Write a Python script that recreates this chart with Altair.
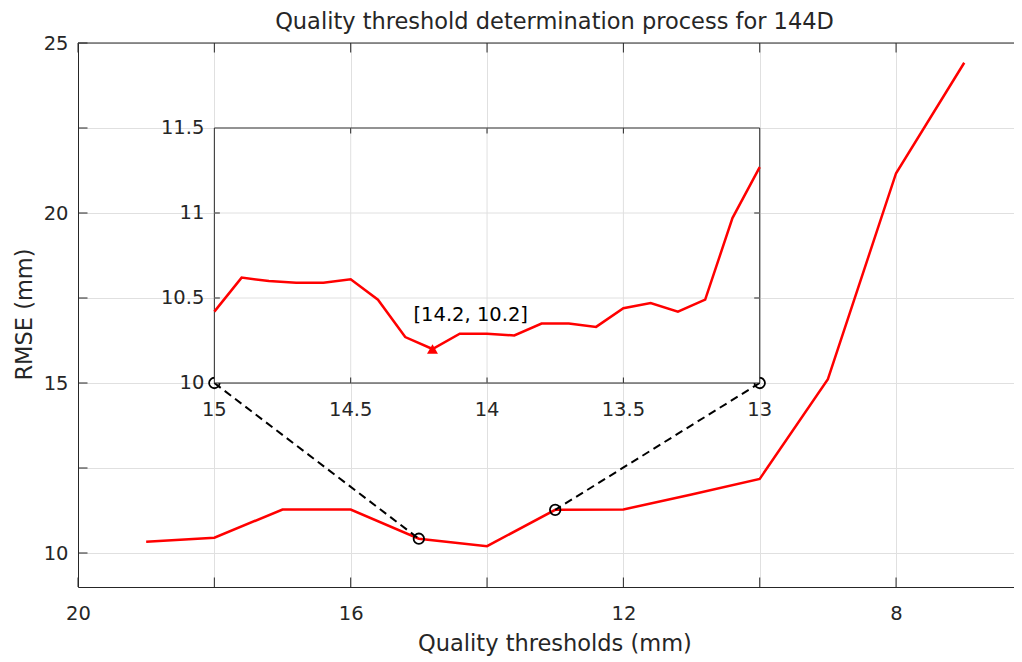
import altair as alt
import pandas as pd

# ---------------- data ----------------
title_text = ["Quality threshold determination process for 144D"]

main_threshold = [19, 18, 17, 16, 15, 14, 13, 12, 11, 10, 9, 8, 7]
main_rmse = [10.33, 10.45, 11.28, 11.28, 10.42, 10.20, 11.27, 11.28, 11.72, 12.18, 15.11, 21.17, 24.42]

inset_threshold = [15.0, 14.9, 14.8, 14.7, 14.6, 14.5, 14.4, 14.3, 14.2, 14.1, 14.0,
                   13.9, 13.8, 13.7, 13.6, 13.5, 13.4, 13.3, 13.2, 13.1, 13.0]
inset_rmse = [10.42, 10.62, 10.60, 10.59, 10.59, 10.61, 10.49, 10.27, 10.20, 10.29, 10.29,
              10.28, 10.35, 10.35, 10.33, 10.44, 10.47, 10.42, 10.49, 10.97, 11.27]

min_threshold = [14.2]
min_rmse = [10.2]

main_x_ticks = [20, 18, 16, 14, 12, 10, 8]
main_x_labels = [20, 16, 12, 8]
main_y_ticks = [10, 12.5, 15, 17.5, 20, 22.5, 25]
main_y_labels = [10, 15, 20, 25]
inset_x_ticks = [15, 14.5, 14, 13.5, 13]
inset_y_ticks = [10, 10.5, 11, 11.5]

# zoomed points on the main curve and where the inset sits (main data coordinates)
zoom_x = [15, 13]
zoom_y = [10.42, 11.27]
inset_box_x = [18, 10]
inset_box_y = [15, 22.5]

main_x_domain = [6.27, 20]
main_y_domain = [9, 25]
inset_x_domain = [13, 15]
inset_y_domain = [10, 11.5]

# ---------------- style / layout ----------------
W, H = 936, 544
CX = 476.5  # horizontal centre of the (uncropped) axes, for the titles
F = "DejaVu Sans"
AX = "#262626"
GRID = "#e0e0e0"
RED = "#ff0000"
TICK_FS = 19.5
LAB_FS = 22.5


def xpix(v):
    return (main_x_domain[1] - v) / (main_x_domain[1] - main_x_domain[0]) * W


def ypix(v):
    return (main_y_domain[1] - v) / (main_y_domain[1] - main_y_domain[0]) * H


xs = alt.Scale(domain=main_x_domain, reverse=True, nice=False, zero=False)
ys = alt.Scale(domain=main_y_domain, nice=False, zero=False)

ix0, ix1 = xpix(inset_box_x[0]), xpix(inset_box_x[1])
iy0, iy1 = ypix(inset_box_y[0]), ypix(inset_box_y[1])
ixs = alt.Scale(domain=inset_x_domain, reverse=True, nice=False, zero=False, range=[ix0, ix1])
iys = alt.Scale(domain=inset_y_domain, nice=False, zero=False, range=[iy0, iy1])


def label_expr(vals):
    return "indexof([" + ",".join(str(v) for v in vals) + "], datum.value) >= 0 ? datum.label : ''"


def MX(field):
    return alt.X(field, scale=xs, axis=None)


def MY(field):
    return alt.Y(field, scale=ys, axis=None)


def IX(field):
    return alt.X(field, scale=ixs, axis=None)


def IY(field):
    return alt.Y(field, scale=iys, axis=None)


# ---------------- main axes ----------------
df_main = pd.DataFrame({"x": main_threshold, "y": main_rmse})

main_line = alt.Chart(df_main).mark_line(color=RED, strokeWidth=2.5).encode(
    x=alt.X("x:Q", scale=xs, axis=alt.Axis(
        orient="bottom", values=main_x_ticks, labelExpr=label_expr(main_x_labels), format="~g",
        grid=True, gridColor=GRID, gridWidth=1, domain=True, domainColor=AX, domainWidth=1,
        ticks=False, labelPadding=32.5, labelBaseline="alphabetic",
        labelFont=F, labelFontSize=TICK_FS, labelColor=AX, labelFlush=False, labelOverlap=False,
        title="Quality thresholds (mm)", titleFont=F, titleFontSize=LAB_FS, titleFontWeight="normal",
        titleColor=AX, titleX=CX, titleY=63, titleAlign="center", titleBaseline="alphabetic")),
    y=alt.Y("y:Q", scale=ys, axis=alt.Axis(
        orient="left", values=main_y_ticks, labelExpr=label_expr(main_y_labels), format="~g",
        grid=True, gridColor=GRID, gridWidth=1, domain=True, domainColor=AX, domainWidth=1,
        ticks=False, labelPadding=10,
        labelFont=F, labelFontSize=TICK_FS, labelColor=AX, labelOverlap=False,
        title="RMSE (mm)", titleFont=F, titleFontSize=LAB_FS, titleFontWeight="normal",
        titleColor=AX, titleX=-46.3, titleY=H / 2 - 1, titleAngle=270, titleAlign="center",
        titleBaseline="alphabetic")),
)

df_title = pd.DataFrame({"t": title_text})
title_mark = alt.Chart(df_title).mark_text(align="center", baseline="alphabetic", font=F,
                                           fontSize=LAB_FS, color=AX).encode(
    x=alt.value(CX), y=alt.value(-13.7), text="t:N")

df_xt = pd.DataFrame({"x": main_x_ticks})
df_yt = pd.DataFrame({"y": main_y_ticks})
TL = 9.5
tick_bottom = alt.Chart(df_xt).mark_rule(color=AX, strokeWidth=1).encode(
    x=MX("x:Q"), y=alt.value(H), y2=alt.value(H - TL))
tick_top = alt.Chart(df_xt).mark_rule(color=AX, strokeWidth=1).encode(
    x=MX("x:Q"), y=alt.value(0), y2=alt.value(TL))
tick_left = alt.Chart(df_yt).mark_rule(color=AX, strokeWidth=1).encode(
    y=MY("y:Q"), x=alt.value(0), x2=alt.value(TL))
frame_top = alt.Chart(df_xt.head(1)).mark_rule(color=AX, strokeWidth=1).encode(
    x=alt.value(0), x2=alt.value(W), y=alt.value(0))

df_conn = pd.DataFrame({
    "x1": inset_box_x, "y1": [inset_box_y[0]] * 2, "x2": zoom_x, "y2": zoom_y})
connectors = alt.Chart(df_conn).mark_rule(color="black", strokeWidth=2, strokeDash=[8, 5]).encode(
    x=MX("x1:Q"), y=MY("y1:Q"), x2="x2:Q", y2="y2:Q")

df_circ = pd.DataFrame({"x": inset_box_x + zoom_x, "y": [inset_box_y[0]] * 2 + zoom_y})
circles = alt.Chart(df_circ).mark_point(shape="circle", filled=False, color="black",
                                        strokeWidth=1.8, size=110, opacity=1).encode(
    x=MX("x:Q"), y=MY("y:Q"))

# ---------------- inset axes ----------------
df_box = pd.DataFrame({"x": [inset_x_domain[1]], "x2": [inset_x_domain[0]],
                       "y": [inset_y_domain[0]], "y2": [inset_y_domain[1]]})
box = alt.Chart(df_box).mark_rect(fill="white", stroke=AX, strokeWidth=1).encode(
    x=IX("x:Q"), x2="x2:Q", y=IY("y:Q"), y2="y2:Q")

inner_x = inset_x_ticks[1:-1]
inner_y = inset_y_ticks[1:-1]
df_igx = pd.DataFrame({"x": inner_x, "y": inset_y_domain[0], "y2": inset_y_domain[1]})
df_igy = pd.DataFrame({"y": inner_y, "x": inset_x_domain[1], "x2": inset_x_domain[0]})
grid_v = alt.Chart(df_igx).mark_rule(color=GRID, strokeWidth=1).encode(
    x=IX("x:Q"), y=IY("y:Q"), y2="y2:Q")
grid_h = alt.Chart(df_igy).mark_rule(color=GRID, strokeWidth=1).encode(
    y=IY("y:Q"), x=IX("x:Q"), x2="x2:Q")

ITL = 5.5
df_ixt = pd.DataFrame({"x": inner_x})
df_iyt = pd.DataFrame({"y": inner_y})
itick_b = alt.Chart(df_ixt).mark_rule(color=AX, strokeWidth=1).encode(
    x=IX("x:Q"), y=alt.value(iy0), y2=alt.value(iy0 - ITL))
itick_t = alt.Chart(df_ixt).mark_rule(color=AX, strokeWidth=1).encode(
    x=IX("x:Q"), y=alt.value(iy1), y2=alt.value(iy1 + ITL))
itick_l = alt.Chart(df_iyt).mark_rule(color=AX, strokeWidth=1).encode(
    y=IY("y:Q"), x=alt.value(ix0), x2=alt.value(ix0 + ITL))
itick_r = alt.Chart(df_iyt).mark_rule(color=AX, strokeWidth=1).encode(
    y=IY("y:Q"), x=alt.value(ix1), x2=alt.value(ix1 - ITL))

df_ixl = pd.DataFrame({"x": inset_x_ticks, "t": [f"{v:g}" for v in inset_x_ticks]})
df_iyl = pd.DataFrame({"y": inset_y_ticks, "t": [f"{v:g}" for v in inset_y_ticks]})
ilab_x = alt.Chart(df_ixl).mark_text(align="center", baseline="alphabetic", font=F,
                                     fontSize=TICK_FS, color=AX).encode(
    x=IX("x:Q"), y=alt.value(iy0 + 33), text="t:N")
ilab_y = alt.Chart(df_iyl).mark_text(align="right", baseline="middle", font=F,
                                     fontSize=TICK_FS, color=AX).encode(
    y=IY("y:Q"), x=alt.value(ix0 - 10), text="t:N")

df_inset = pd.DataFrame({"x": inset_threshold, "y": inset_rmse})
inset_line = alt.Chart(df_inset).mark_line(color=RED, strokeWidth=2.5).encode(
    x=IX("x:Q"), y=IY("y:Q"))

df_min = pd.DataFrame({"x": min_threshold, "y": min_rmse,
                       "label": [f"[{min_threshold[0]}, {min_rmse[0]}]"]})
min_mark = alt.Chart(df_min).mark_point(shape="triangle-up", filled=True, color=RED,
                                        size=120, opacity=1).encode(
    x=IX("x:Q"), y=IY("y:Q"))
min_text = alt.Chart(df_min).mark_text(align="left", baseline="alphabetic", dx=-19, dy=-28,
                                       font=F, fontSize=TICK_FS, color="black").encode(
    x=IX("x:Q"), y=IY("y:Q"), text="label:N")

chart = alt.layer(
    main_line, title_mark, tick_bottom, tick_top, tick_left, frame_top, connectors, circles,
    box, grid_v, grid_h, itick_b, itick_t, itick_l, itick_r, ilab_x, ilab_y,
    inset_line, min_mark, min_text,
).resolve_scale(
    x="independent", y="independent"
).properties(
    width=W, height=H,
    padding={"left": 70, "top": 35, "right": 0, "bottom": 70},
    autosize=alt.AutoSizeParams(type="none"),
).configure_view(stroke=None)

chart.save("out.html", embed_options={"renderer": "svg", "actions": False})
